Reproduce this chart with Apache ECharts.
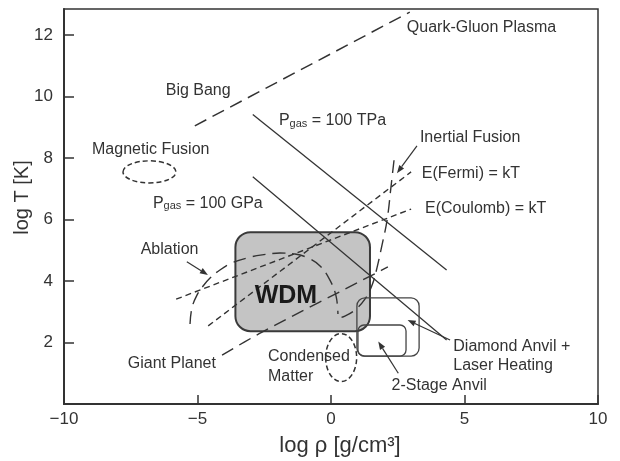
<!DOCTYPE html>
<html><head><meta charset="utf-8">
<script src="https://cdn.jsdelivr.net/npm/echarts@6/dist/echarts.min.js"></script>
<style>html,body{margin:0;padding:0;background:#fff}#c{width:620px;height:461px}</style>
</head><body><div id="c"></div>
<script>
// ---- data (log rho [g/cm3], log T [K]) ----
const xRange = [-10, 10];
const yRange = [0, 12.85];
const bigBang = [[-5.1, 9.05], [2.95, 12.75]];
const pGas100TPa = [[-2.93, 9.42], [4.33, 4.36]];
const pGas100GPa = [[-2.93, 7.39], [4.33, 2.08]];
const eFermi = [[-4.6, 2.54], [3.0, 7.55]];
const eCoulomb = [[-5.8, 3.41], [3.0, 6.34]];
const giantPlanet = [[-4.08, 1.59], [-2.58, 2.34], [1.69, 4.26], [2.13, 4.46]];
const ablation = [[-5.28, 2.60], [-5.21, 3.12], [-5.02, 3.54], [-4.79, 3.84], [-4.53, 4.10], [-4.16, 4.36],
  [-3.71, 4.59], [-3.15, 4.75], [-2.58, 4.85], [-1.91, 4.91], [-1.35, 4.88], [-0.86, 4.75], [-0.41, 4.49],
  [-0.04, 4.03], [0.19, 3.51], [0.26, 2.93]];
const inertialFusion = [[2.36, 7.93], [2.25, 7.09], [2.10, 5.98], [1.91, 5.17], [1.72, 4.42], [1.54, 3.87],
  [1.27, 3.41], [0.90, 3.06], [0.52, 2.86], [0.15, 2.76]];
// boxes: [x0, y0, x1, y1]
const wdmBox = [-3.58, 2.37, 1.46, 5.59];
const diamondAnvilBox = [0.97, 1.56, 3.30, 3.45];
const twoStageAnvilBox = [1.01, 1.56, 2.81, 2.57];
// ellipses: [cx, cy, rx, ry]
const magneticFusion = [-6.80, 7.55, 0.99, 0.36];
const condensedMatter = [0.38, 1.51, 0.58, 0.78];
// arrows: [xFrom, yFrom, xTo, yTo]
const arrows = [[-5.40, 4.63, -4.61, 4.20], [3.22, 8.40, 2.47, 7.51], [4.46, 2.08, 2.87, 2.73], [2.52, 1.00, 1.77, 2.03]];
// labels
const labelTexts = ['Quark-Gluon Plasma', 'Big Bang', 'Magnetic Fusion', '{p|P}{s|gas}{p| = 100 TPa}',
  '{p|P}{s|gas}{p| = 100 GPa}', 'Inertial Fusion', 'E(Fermi) = kT', 'E(Coulomb) = kT', 'Ablation',
  'Giant Planet', 'Condensed', 'Matter', 'Diamond Anvil +', 'Laser Heating', '2-Stage Anvil'];
const labelAnchors = [[2.84, 12.26], [-6.19, 10.21], [-8.95, 8.26], [-1.95, 9.27], [-6.67, 6.60], [3.33, 8.68],
  [3.40, 7.51], [3.52, 6.37], [-7.13, 5.01], [-7.61, 1.30], [-2.36, 1.54], [-2.36, 0.89], [4.58, 1.86],
  [4.58, 1.24], [2.27, 0.60]];
const wdmLabel = ['WDM'];
const wdmAnchor = [[-1.69, 3.51]];

// ---- rendering ----
const FONT = '"Liberation Sans", Arial, Helvetica, sans-serif';
const INK = '#333';
const chart = echarts.init(document.getElementById('c'), null, {renderer: 'canvas'});

function lineSeries(data, dash, width, smooth, z) {
  return {type: 'line', data: data, showSymbol: false, symbol: 'none', smooth: smooth || false, silent: true,
    z: z || 3, lineStyle: {color: INK, width: width, type: dash}, animation: false};
}
function boxSeries(box, fill, stroke, width, radius, z) {
  return {type: 'custom', data: [box], encode: {x: [0, 2], y: [1, 3]}, z: z, silent: true, animation: false,
    renderItem: function (params, api) {
      const p0 = api.coord([api.value(0), api.value(3)]);
      const p1 = api.coord([api.value(2), api.value(1)]);
      return {type: 'rect', shape: {x: p0[0], y: p0[1], width: p1[0] - p0[0], height: p1[1] - p0[1], r: radius},
        style: {fill: fill, stroke: stroke, lineWidth: width}};
    }};
}
function ellipseSeries(e, dash) {
  return {type: 'custom', data: [e], z: 3, silent: true, animation: false,
    renderItem: function (params, api) {
      const cx = api.value(0), cy = api.value(1), rx = api.value(2), ry = api.value(3);
      const p0 = api.coord([cx - rx, cy + ry]);
      const p1 = api.coord([cx + rx, cy - ry]);
      return {type: 'path', shape: {pathData: 'M0,1 C0,0.448 0.448,0 1,0 C1.552,0 2,0.448 2,1 C2,1.552 1.552,2 1,2 C0.448,2 0,1.552 0,1 Z',
        x: p0[0], y: p0[1], width: p1[0] - p0[0], height: p1[1] - p0[1], layout: 'cover'},
        style: {fill: 'none', stroke: INK, lineWidth: 1.5, lineDash: dash}};
    }};
}
const option = {
  animation: false,
  backgroundColor: '#fff',
  grid: {left: 64, right: 22, top: 9, bottom: 57, show: true, borderColor: INK, borderWidth: 1.5,
    containLabel: false, outerBoundsMode: 'none'},
  xAxis: {type: 'value', min: xRange[0], max: xRange[1], interval: 5, splitLine: {show: false},
    axisLine: {onZero: false, lineStyle: {color: INK, width: 2}},
    axisTick: {inside: true, length: 9, lineStyle: {color: INK, width: 1.5}},
    axisLabel: {fontSize: 17, color: INK, fontFamily: FONT, margin: 7,
      formatter: function (v) { return String(v).replace('-', '\u2212'); }},
    name: 'log \u03c1 [g/cm\u00b3]', nameLocation: 'middle', nameGap: 31, nameMoveOverlap: false,
    nameTextStyle: {fontSize: 22, color: INK, fontFamily: FONT, padding: [0, 0, 0, 18]}},
  yAxis: {type: 'value', min: yRange[0], max: yRange[1], interval: 2, splitLine: {show: false},
    axisLine: {onZero: false, lineStyle: {color: INK, width: 2}},
    axisTick: {inside: true, length: 10, lineStyle: {color: INK, width: 1.5}},
    axisLabel: {fontSize: 17, color: INK, fontFamily: FONT, margin: 11, showMinLabel: false, showMaxLabel: false},
    name: 'log T [K]', nameLocation: 'middle', nameGap: 32, nameRotate: 90, nameMoveOverlap: false,
    nameTextStyle: {fontSize: 20, color: INK, fontFamily: FONT, padding: [0, 0, 0, 18]}},
  series: [
    boxSeries(wdmBox, '#c4c4c4', '#3a3a3a', 2, 15, 1),
    lineSeries(bigBang, [13, 7], 1.5, false),
    lineSeries(pGas100TPa, 'solid', 1.3, false),
    lineSeries(pGas100GPa, 'solid', 1.3, false),
    lineSeries(eFermi, [6, 4], 1.4, false),
    lineSeries(eCoulomb, [6, 4], 1.4, false),
    lineSeries(giantPlanet, [13, 7], 1.4, 0.3),
    lineSeries(ablation, [13, 7], 1.4, 0.4),
    lineSeries(inertialFusion, [13, 7], 1.4, 0.4),
    boxSeries(diamondAnvilBox, 'none', '#444', 1.3, 8, 4),
    boxSeries(twoStageAnvilBox, 'none', '#444', 1.3, 6, 4),
    ellipseSeries(magneticFusion, [5, 3]),
    ellipseSeries(condensedMatter, [5, 3]),
    {type: 'custom', data: arrows, encode: {x: [0, 2], y: [1, 3]}, z: 5, silent: true, animation: false,
      renderItem: function (params, api) {
        const a = api.coord([api.value(0), api.value(1)]);
        const b = api.coord([api.value(2), api.value(3)]);
        const dx = b[0] - a[0], dy = b[1] - a[1], L = Math.hypot(dx, dy), ux = dx / L, uy = dy / L;
        const hl = 8, hw = 3;
        const base = [b[0] - ux * hl, b[1] - uy * hl];
        return {type: 'group', children: [
          {type: 'line', shape: {x1: a[0], y1: a[1], x2: base[0], y2: base[1]}, style: {stroke: INK, lineWidth: 1.2}},
          {type: 'polygon', shape: {points: [b, [base[0] - uy * hw, base[1] + ux * hw], [base[0] + uy * hw, base[1] - ux * hw]]},
            style: {fill: INK}}]};
      }},
    {type: 'custom', data: labelAnchors, z: 6, silent: true, animation: false,
      renderItem: function (params, api) {
        const p = api.coord([api.value(0), api.value(1)]);
        return {type: 'text', x: p[0], y: p[1], style: {text: labelTexts[params.dataIndex], fill: INK,
          fontSize: 16, fontFamily: FONT, align: 'left', verticalAlign: 'middle',
          rich: {p: {fontSize: 16, fontFamily: FONT, fill: INK, lineHeight: 20, verticalAlign: 'bottom'},
                 s: {fontSize: 11, fontFamily: FONT, fill: INK, lineHeight: 11, verticalAlign: 'bottom'}}}};
      }},
    {type: 'custom', data: wdmAnchor, z: 6, silent: true, animation: false,
      renderItem: function (params, api) {
        const p = api.coord([api.value(0), api.value(1)]);
        return {type: 'text', x: p[0], y: p[1], style: {text: wdmLabel[params.dataIndex], fill: '#1a1a1a',
          fontSize: 25, fontWeight: 'bold', fontFamily: FONT, align: 'center', verticalAlign: 'middle'}};
      }}
  ]
};
chart.setOption(option);
</script>
</body></html>
